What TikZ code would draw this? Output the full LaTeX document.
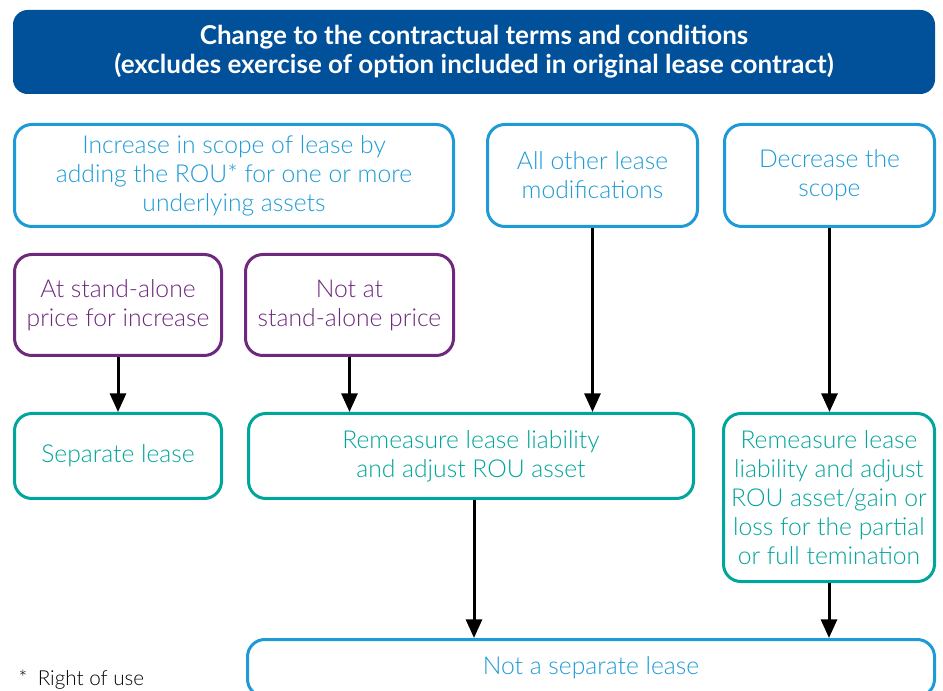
\documentclass[tikz,border=0pt]{standalone}
\usepackage{fontspec}
\setmainfont{Lato}[UprightFont=* Light, BoldFont=* Bold]
\usetikzlibrary{arrows.meta}
\definecolor{kblue}{RGB}{0,80,154}
\definecolor{lblue}{RGB}{30,155,215}
\definecolor{kpurple}{RGB}{110,40,125}
\definecolor{kteal}{RGB}{0,165,155}
\tikzset{
  box/.style={draw, rounded corners=13pt, line width=2.25pt, align=center,
    font=\fontsize{18.5}{21.75}\selectfont, fill=white, inner sep=2pt},
  bluebox/.style={box, draw=lblue, text=lblue},
  purplebox/.style={box, draw=kpurple, text=kpurple},
  tealbox/.style={box, draw=kteal, text=kteal},
  flow/.style={-{Triangle[width=12pt,length=14pt]}, line width=2.25pt}
}
\begin{document}
\begin{tikzpicture}[x=0.75pt,y=-0.75pt]
      \useasboundingbox (0,0) rectangle (943,691);
      \node[fill=kblue, text=white, rounded corners=11pt, align=center,
        minimum width=691.5pt, minimum height=63pt,
        font=\bfseries\fontsize{19.5}{21.75}\selectfont] (top) at (474,52)
        {Change to the contractual terms and conditions\\(excludes exercise of option included in original lease contract)};
      \node[bluebox, minimum width=329.25pt, minimum height=76.5pt] (inc) at (234,175.5)
        {Increase in scope of lease by\\adding the ROU* for one or more\\underlying assets};
      \node[bluebox, minimum width=157.5pt, minimum height=76.5pt] (other) at (592.5,175.5)
        {All other lease\\modifications};
      \node[bluebox, minimum width=157.5pt, minimum height=76.5pt] (dec) at (829.5,175.5)
        {Decrease the\\scope};
      \node[purplebox, minimum width=155.25pt, minimum height=75.75pt] (at) at (118,305)
        {At stand-alone\\price for increase};
      \node[purplebox, minimum width=156pt, minimum height=75.75pt] (notat) at (349.5,305)
        {Not at\\stand-alone price};
      \node[tealbox, minimum width=155.25pt, minimum height=63.75pt] (sep) at (118,456)
        {Separate lease};
      \node[tealbox, minimum width=333.75pt, minimum height=63.75pt] (rem) at (471,456)
        {Remeasure lease liability\\and adjust ROU asset};
      \node[tealbox, minimum width=158.25pt, minimum height=126pt] (remr) at (829,497.5)
        {Remeasure lease\\liability and adjust\\ROU asset/gain or\\loss for the partial\\or full temination};
      \node[bluebox, minimum width=515.25pt, minimum height=42.75pt] (notsep) at (591,668)
        {Not a separate lease};
      \node[anchor=base west, font=\fontsize{15.5}{16}\selectfont] (foot) at (14,685)
        {*\enspace Right of use};
      \begin{scope}[flow]
        \draw (at) to (sep);
        \draw (notat) to (notat.south |- rem.north);
        \draw (other) to (other.south |- rem.north);
        \draw (dec) to (dec.south |- remr.north);
        \draw ([xshift=2.25pt]rem.south) to ([xshift=2.25pt]rem.south |- notsep.north);
        \draw (remr) to (remr.south |- notsep.north);
      \end{scope}
    \end{tikzpicture}
\end{document}
